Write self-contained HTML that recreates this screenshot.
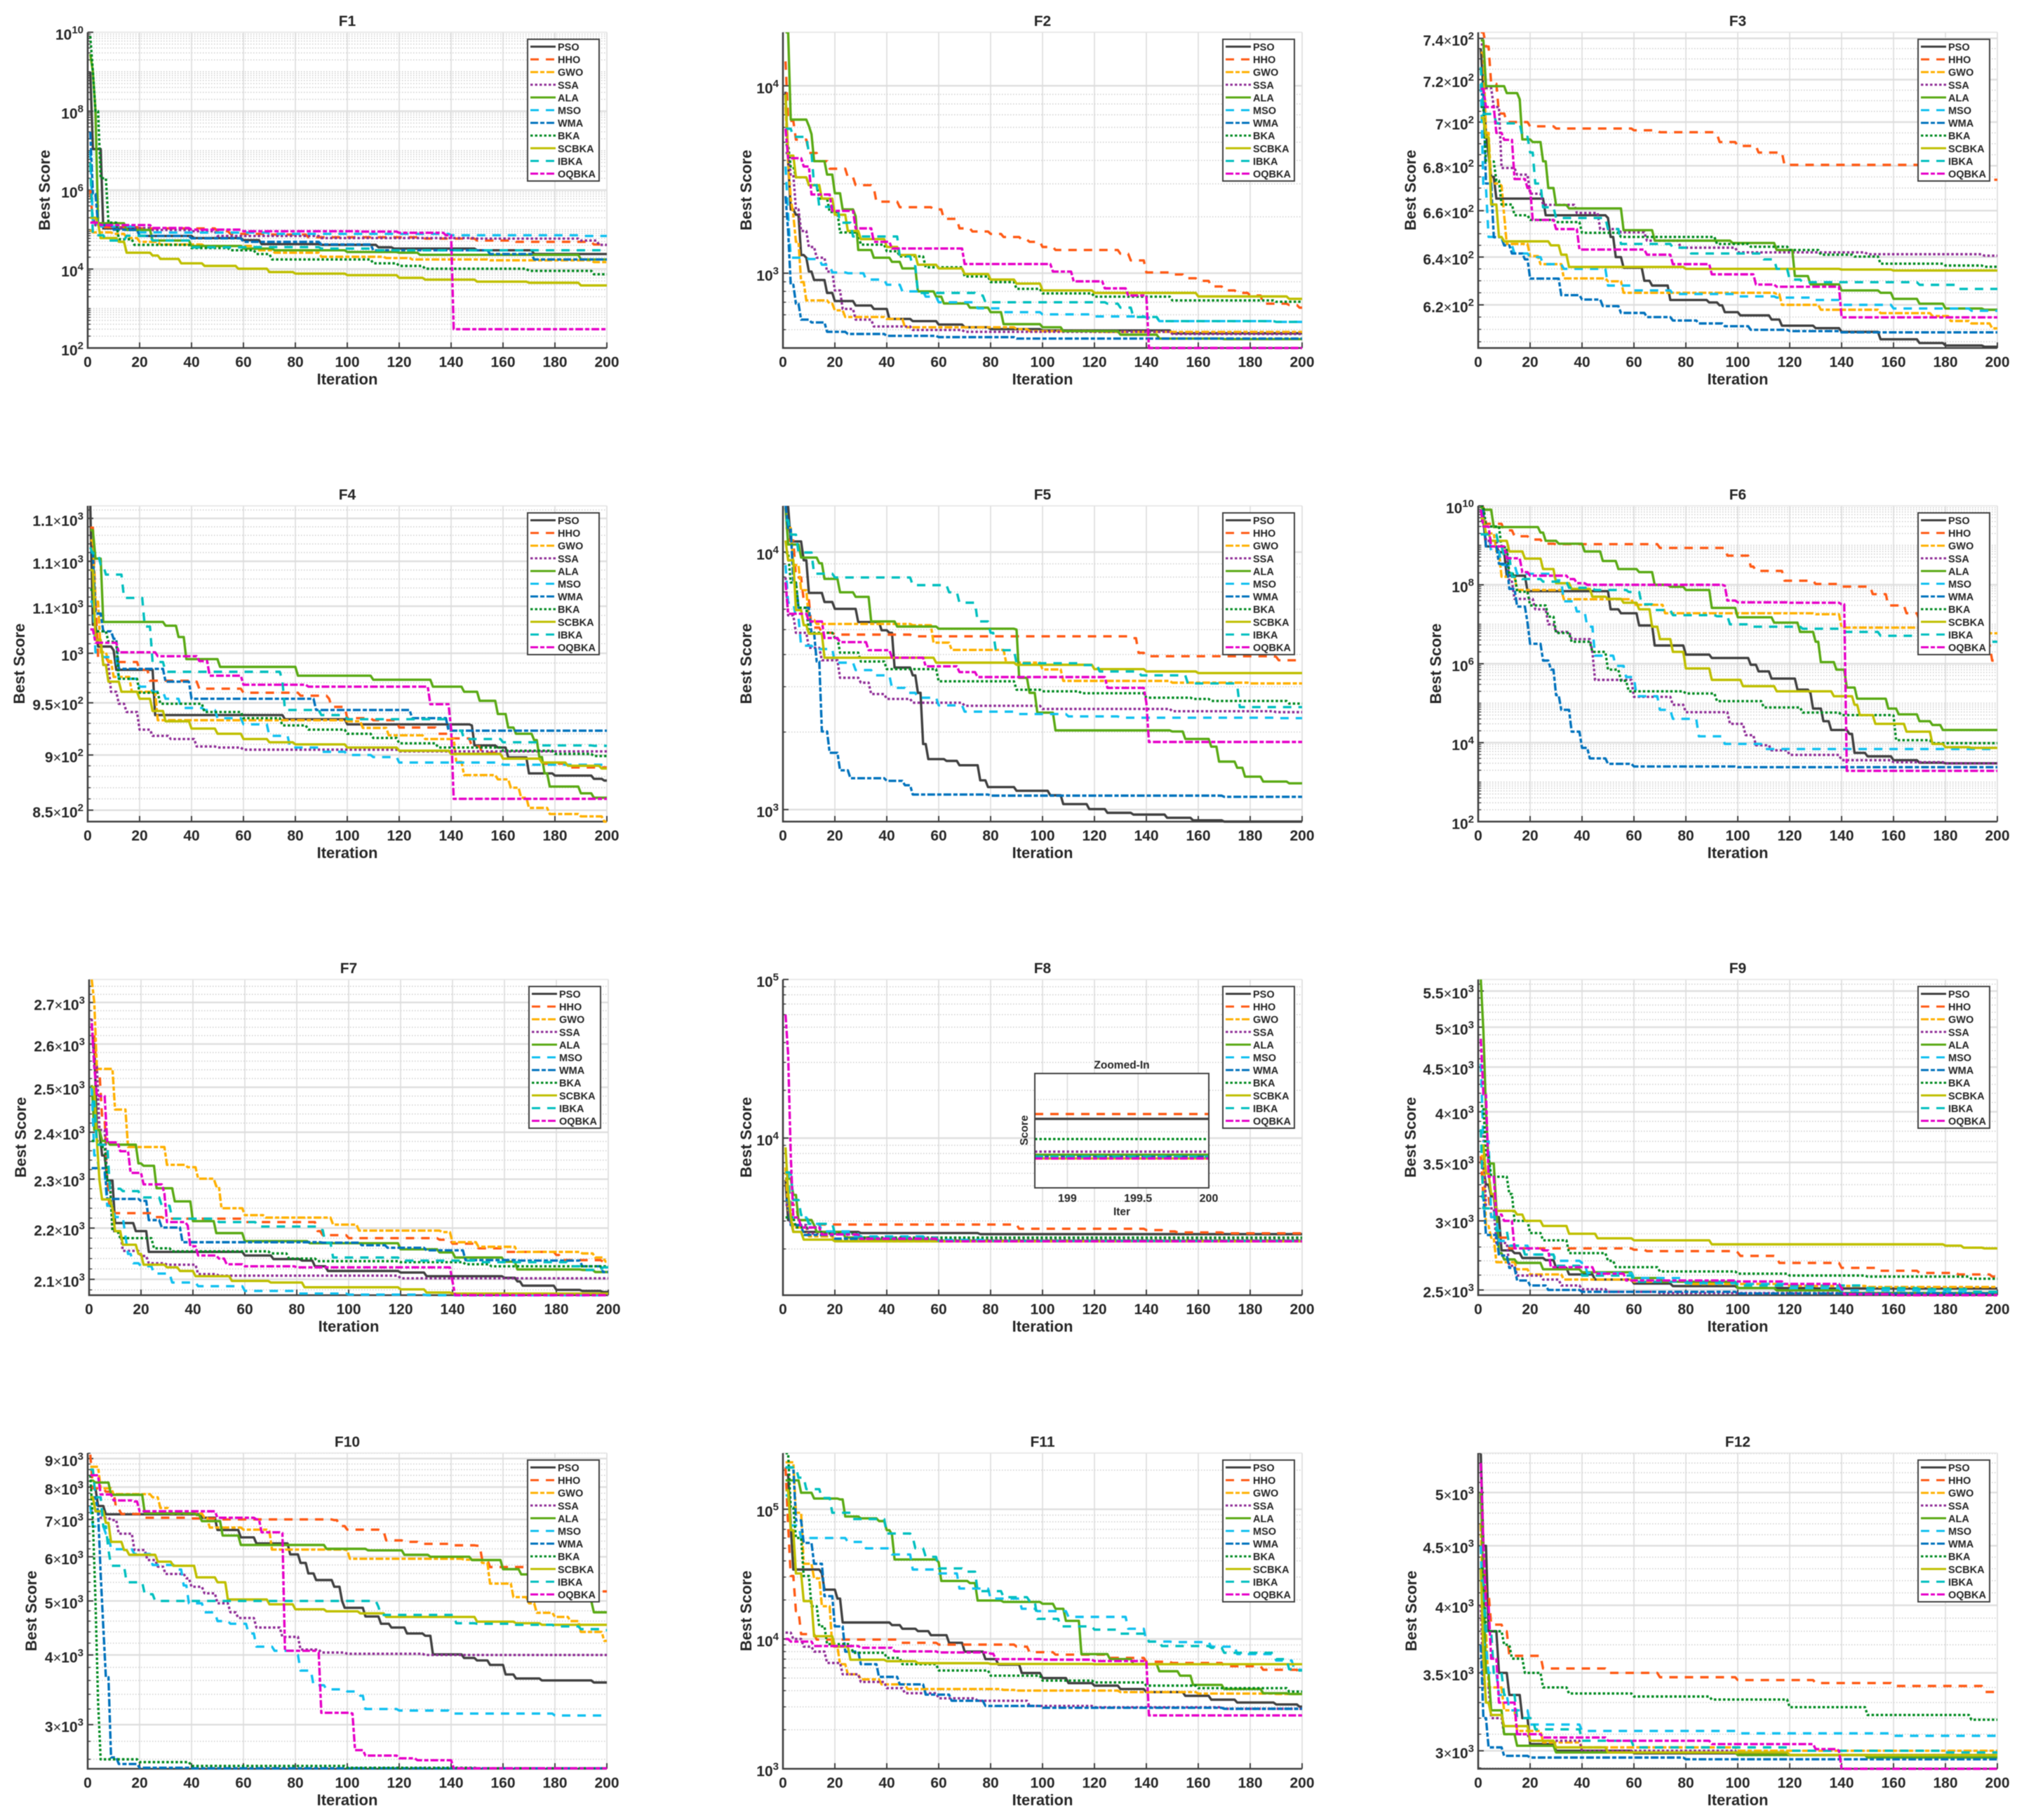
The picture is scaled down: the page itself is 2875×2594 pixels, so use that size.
<!DOCTYPE html>
<html lang="en">
<head>
<meta charset="utf-8">
<title>Convergence curves F1-F12</title>
<style>
html,body{margin:0;padding:0;background:#fff;}
#stage{display:block;width:2875px;height:2594px;font-family:"Liberation Sans",Arial,sans-serif;filter:blur(0.6px);}
text{font-family:"Liberation Sans",Arial,sans-serif;font-weight:bold;fill:#262626;}
</style>
</head>
<body>
<svg id="stage" xmlns="http://www.w3.org/2000/svg" width="2875" height="2594" viewBox="0 0 2875 2594"></svg>
<script>
const xTicks=[0,20,40,60,80,100,120,140,160,180,200];
const algorithms=['PSO','HHO','GWO','SSA','ALA','MSO','WMA','BKA','SCBKA','IBKA','OQBKA'];

/* ---------- F1 ---------- */
const F1_yRange=[1e2,1e10];
const F1_yTicks=[1e2,1e4,1e6,1e8,1e10];
const F1_yLabels=['10^2','10^4','10^6','10^8','10^10'];
const F1_PSO=[[1,1e9],[2,1.1e7],[6,1.07e5],[20,6.9e4],[41,6.1e4],[60,5.4e4],[67,4.3e4],[90,4.1e4],[112,3.55e4],[118,3.3e4],[150,3e4],[172,2.4e4]];
const F1_HHO=[[1,1e6],[2,1.5e5],[5,1.15e5],[20,1.07e5],[50,9.1e4],[55,7.8e4],[70,7.5e4],[85,6.4e4],[130,5.9e4],[150,5.3e4],[165,4.9e4],[195,4.2e4]];
const F1_GWO=[[1,1e5],[2,8.5e4],[10,7.8e4],[15,6.1e4],[20,4.9e4],[28,4.2e4],[45,3.85e4],[65,3e4],[72,2.6e4],[90,2.05e4],[115,1.9e4],[125,1.75e4],[155,1.67e4],[195,1.5e4]];
const F1_SSA=[[1,2e5],[3,1.28e5],[10,1.1e5],[25,9.8e4],[40,9.1e4],[50,6.9e4],[90,6.1e4],[150,5.9e4],[190,5.3e4],[197,4.1e4]];
const F1_ALA=[[1,2.8e9],[2,1e9],[3,1e8],[4,1.45e5],[15,9.8e4],[25,5.3e4],[40,3.85e4],[60,3.3e4],[72,3e4],[100,2.7e4],[120,2.6e4],[128,2.3e4],[190,1.75e4]];
const F1_MSO=[[1,1e7],[2,1.35e5],[5,1.2e5],[20,8.5e4],[30,8.4e4],[70,7.8e4],[140,7.2e4],[190,6.9e4]];
const F1_WMA=[[1,3e7],[2,8e5],[4,1.3e5],[10,1e5],[15,9.8e4],[20,6.9e4],[40,6e4],[60,4.9e4],[90,4.2e4],[110,3e4],[155,2.4e4],[172,1.75e4]];
const F1_BKA=[[1,8e9],[2,1e9],[3,1e8],[5,2e6],[8,1.5e5],[12,5.7e4],[18,4.1e4],[40,3.4e4],[55,3e4],[65,2.4e4],[71,1.75e4],[110,1.4e4],[120,1.2e4],[130,1.02e4],[170,9e3],[195,7.4e3]];
const F1_SCBKA=[[1,2e5],[4,1.45e5],[5,6.1e4],[12,4.9e4],[15,2.6e4],[25,2.2e4],[28,1.8e4],[36,1.4e4],[45,1.2e4],[58,1.02e4],[70,8.4e3],[80,7.7e3],[100,7e3],[120,6e3],[130,5.4e3],[150,4.8e3],[170,4.5e3],[190,3.85e3]];
const F1_IBKA=[[1,5e6],[2,7.2e4],[7,5.3e4],[15,7e4],[25,5.3e4],[40,3.55e4],[60,3.6e4],[90,3.3e4],[110,3e4],[190,3e4]];
const F1_OQBKA=[[1,1.5e5],[5,1.3e5],[25,1.1e5],[40,1e5],[60,9.1e4],[105,8.9e4],[120,8.3e4],[138,7.2e4],[141,3e2]];

/* ---------- F2 ---------- */
const F2_yRange=[399,19300];
const F2_yTicks=[1e3,1e4];
const F2_yLabels=['10^3','10^4'];
const F2_PSO=[[1,9300],[2,3960],[3,2190],[5,2050],[7,1250],[9,1210],[10,1020],[12,920],[17,785],[20,710],[28,673],[35,645],[41,570],[50,555],[60,532],[70,515],[80,503],[100,495],[150,478]];
const F2_HHO=[[1,13500],[2,6500],[5,5160],[10,4380],[14,3960],[18,3610],[25,3250],[28,2950],[35,2850],[36,2410],[45,2250],[58,2190],[62,1950],[68,1735],[73,1670],[80,1620],[85,1560],[92,1510],[95,1470],[100,1380],[105,1330],[130,1270],[134,1170],[140,1010],[150,985],[155,940],[160,910],[165,850],[170,810],[175,785],[180,760],[185,688],[195,677],[199,655]];
const F2_GWO=[[1,7700],[2,3960],[3,2500],[4,2050],[5,1470],[7,897],[9,716],[18,688],[20,634],[24,584],[40,570],[47,515],[90,503],[95,491],[120,486]];
const F2_SSA=[[1,4380],[3,3360],[5,2190],[7,1680],[10,1380],[13,1210],[17,1020],[20,810],[23,645],[28,565],[35,520],[50,498],[70,487],[150,474]];
const F2_ALA=[[1,19300],[3,6600],[10,6100],[11,5520],[12,3960],[17,3360],[20,2670],[23,2190],[28,2010],[29,1330],[35,1210],[42,1150],[46,1060],[52,800],[59,750],[62,690],[72,655],[80,620],[85,535],[100,515],[108,491],[130,470],[145,448],[170,445]];
const F2_MSO=[[1,3710],[2,2050],[3,1210],[10,1190],[15,1110],[19,1010],[25,1000],[32,925],[40,868],[46,800],[55,750],[60,700],[75,650],[85,620],[100,603],[120,588],[140,580],[145,555],[190,550]];
const F2_WMA=[[1,2580],[2,1680],[3,868],[5,688],[7,565],[11,546],[17,487],[25,474],[40,463],[60,456],[90,448]];
const F2_BKA=[[1,4830],[3,3710],[5,3250],[10,2950],[14,2500],[18,2120],[22,1650],[30,1420],[40,1310],[45,1230],[55,1075],[70,960],[80,897],[90,825],[100,780],[120,750],[150,716],[190,704]];
const F2_SCBKA=[[1,9000],[2,4240],[5,3250],[10,2950],[15,2500],[20,2050],[25,1680],[30,1520],[40,1380],[45,1250],[52,1110],[60,1060],[70,990],[80,925],[90,880],[100,810],[120,785],[160,752],[195,730]];
const F2_IBKA=[[1,5900],[4,5340],[10,4380],[12,2950],[14,2260],[22,1860],[27,1570],[45,1230],[50,1090],[52,785],[75,760],[78,700],[125,688],[130,655],[135,584],[145,555],[190,550]];
const F2_OQBKA=[[1,5900],[2,4110],[8,3710],[11,2630],[19,2150],[28,1735],[35,1470],[42,1355],[70,1120],[104,1020],[112,905],[124,830],[133,760],[140,755],[141,399]];

/* ---------- F3 ---------- */
const F3_yRange=[602.5,743];
const F3_yTicks=[620,640,660,680,700,720,740];
const F3_yLabels=['6.2×10^2','6.4×10^2','6.6×10^2','6.8×10^2','7×10^2','7.2×10^2','7.4×10^2'];
const F3_PSO=[[1,735],[2,715],[3,695],[4,685],[5,675],[7,665.3],[26,658],[50,656.8],[51,648.6],[53,640],[56,635.5],[64,630],[67,628],[74,622],[89,621],[93,619.8],[95,617],[101,615.7],[113,614],[117,611.5],[130,610.5],[140,609],[155,606],[170,604.5],[180,603.5],[195,603]];
const F3_HHO=[[1,743],[3,736],[5,718],[8,704],[11,700],[20,698],[30,697],[60,696.2],[70,695.3],[92,694.4],[93,690.8],[100,689],[108,686],[118,680.4],[170,680],[172,673.7]];
const F3_GWO=[[1,733],[3,695],[5,672],[9,671],[10,658],[11,645.6],[20,640.4],[24,637],[33,631],[50,629.8],[56,625],[115,624.5],[117,620],[132,618],[155,616.6],[175,615.4],[182,613.4],[190,612.4],[198,610.4]];
const F3_SSA=[[1,737],[3,716],[6,707],[9,679],[15,676],[20,667.5],[25,662.6],[38,659],[47,652],[55,650.6],[65,647],[78,644],[100,642],[150,641.2],[195,640.6]];
const F3_ALA=[[1,739],[3,716.9],[11,713.6],[16,710.6],[17,692],[21,690.8],[25,682],[27,670],[30,662.5],[35,661],[56,651.5],[68,647],[98,646],[115,643],[122,632],[128,628.5],[140,626],[155,625],[160,622.5],[170,620.5],[180,618.5],[195,618]];
const F3_MSO=[[1,718],[2,670],[4,648.6],[7,648],[10,645],[14,641.5],[20,640],[25,637],[33,635],[50,628],[60,626],[75,624.5],[100,623.5],[115,623],[130,622],[140,620],[160,618.5],[190,617.6]];
const F3_WMA=[[1,713],[3,672],[6,648.5],[10,645],[13,641.5],[18,639],[20,630.9],[32,624],[40,622.2],[48,619.5],[55,616.7],[65,615],[75,613.6],[85,612.4],[95,611.3],[105,609.8],[120,609.3],[140,608.8]];
const F3_BKA=[[1,707],[3,681.9],[7,673.3],[9,662.7],[14,658],[20,656],[30,655],[40,650.4],[55,648.6],[92,645.6],[105,644.4],[120,643],[132,641],[145,640.2],[155,637.2],[180,636.4],[195,635.9]];
const F3_SCBKA=[[1,702],[3,693],[5,662.7],[8,648.6],[10,646.7],[28,645],[32,641],[35,635.8],[80,635],[140,634.7],[160,634.3]];
const F3_IBKA=[[1,726],[2,703.8],[7,699.4],[17,693.2],[20,686],[22,672],[25,661.5],[30,656.8],[50,652],[55,645.6],[75,644],[82,641.5],[110,639],[115,635],[120,630.5],[125,629.4],[170,628.3],[185,626.6]];
const F3_OQBKA=[[1,715.6],[3,707],[7,695],[10,691.8],[14,674],[19,670],[21,656],[30,652],[39,643.2],[65,641],[75,637],[90,632.7],[107,628.4],[115,627.5],[140,614.9]];

/* ---------- F4 ---------- */
const F4_yRange=[840,1165];
const F4_yTicks=[850,900,950,1000,1050,1100,1150];
const F4_yLabels=['8.5×10^2','9×10^2','9.5×10^2','10^3','1.1×10^3','1.1×10^3','1.1×10^3'];
const F4_PSO=[[1,1165],[2,1030],[4,1007],[10,1003],[11,983],[26,938],[76,934],[100,929],[148,928],[149,909],[158,907],[162,897.7],[170,883],[180,881],[195,878],[199,876.5]];
const F4_HHO=[[1,1139],[3,1055],[4,996],[8,991],[20,983],[24,972],[40,971],[43,964],[60,960],[82,957],[93,954],[94,946],[100,935],[110,933],[120,926],[135,920],[140,915.6],[148,908],[152,902],[160,896.6],[175,892],[185,888.5]];
const F4_GWO=[[1,1124],[3,1055],[5,1001],[8,992],[10,975.8],[17,961],[25,960],[27,933],[100,932],[106,925.6],[116,918.5],[130,915],[142,893.5],[145,881.5],[158,877.6],[163,870],[167,861],[170,852],[178,846.6],[190,844.5],[199,840]];
const F4_SSA=[[1,1068],[3,1014],[6,988],[9,961],[12,949],[15,941],[20,924],[25,918],[32,915],[42,908],[50,907],[60,905],[120,903.4]];
const F4_ALA=[[1,1136],[3,1103],[6,1033],[30,1029],[35,1017],[38,994],[51,986],[81,977],[110,973],[133,966],[145,961],[151,952],[158,939],[162,926],[165,920],[172,914],[174,898],[176,883],[178,871],[190,865],[195,861]];
const F4_MSO=[[1,1055],[3,1001],[6,996],[12,974],[20,966],[25,961],[30,954],[36,945],[45,943],[50,935],[60,929],[70,918],[78,907],[90,903],[100,900],[110,898],[120,893],[160,891]];
const F4_WMA=[[1,1110],[3,1042],[6,1023],[10,1015],[12,984],[30,971],[40,954],[88,943],[125,935],[139,923]];
const F4_BKA=[[1,1068],[3,1023],[8,1012],[12,974],[20,960],[28,949],[45,941],[60,935],[75,928],[85,924],[100,920],[110,916],[120,911],[135,907],[160,904],[180,901],[195,899]];
const F4_SCBKA=[[1,1090],[3,1014],[6,988],[8,971],[13,961],[20,954],[25,942],[30,932],[40,925],[50,920],[60,915],[70,912],[80,910],[100,907],[120,904],[140,901],[160,896.6],[175,893],[185,890],[198,887.5]];
const F4_IBKA=[[1,1116],[2,1109],[5,1096],[7,1085],[14,1059],[22,1028],[25,991],[30,981],[75,972],[76,943],[90,938],[100,934],[140,923],[145,915],[160,912],[175,909],[195,908.6]];
const F4_OQBKA=[[1,1025],[3,1011],[12,1001],[27,997],[43,992],[47,977],[60,968],[85,966],[132,948.6],[140,925],[141,860]];

/* ---------- F5 ---------- */
const F5_yRange=[898,15120];
const F5_yTicks=[1e3,1e4];
const F5_yLabels=['10^3','10^4'];
const F5_PSO=[[1,15000],[3,11000],[8,9300],[10,6940],[16,6400],[20,6020],[29,5350],[38,4970],[41,4860],[43,3560],[50,3320],[52,2840],[54,1797],[56,1571],[63,1545],[68,1486],[76,1299],[79,1223],[90,1183],[103,1136],[108,1050],[118,1004],[125,971],[135,956],[148,929],[158,908],[170,898]];
const F5_HHO=[[1,14900],[2,11100],[5,7970],[8,6500],[11,5090],[15,4860],[20,4780],[50,4710],[135,4630],[137,4060],[140,3940],[190,3920],[191,3800]];
const F5_GWO=[[1,12400],[4,8900],[7,7110],[10,5450],[13,5260],[50,5200],[58,4450],[65,4170],[86,3720],[100,3500],[108,3160],[150,3110],[180,3090]];
const F5_SSA=[[1,7970],[2,5680],[5,4860],[10,4250],[15,3800],[22,3250],[30,3110],[34,2810],[40,2690],[50,2600],[70,2530],[100,2460],[150,2410],[190,2390]];
const F5_ALA=[[1,14900],[2,10700],[7,9520],[14,9050],[16,7870],[22,6980],[28,6700],[34,5380],[44,5140],[60,5040],[90,5000],[91,3250],[95,2840],[98,2380],[105,2030],[150,2010],[155,1880],[165,1755],[168,1536],[175,1453],[178,1343],[185,1285],[195,1265]];
const F5_MSO=[[1,8900],[2,6360],[5,5560],[7,4330],[12,4200],[20,3720],[28,3480],[35,3320],[42,2970],[48,2840],[52,2720],[60,2540],[70,2400],[90,2350],[110,2300],[130,2275],[190,2265]];
const F5_WMA=[[1,15200],[2,12400],[4,7620],[6,6080],[11,4860],[13,3760],[15,2010],[18,1662],[22,1421],[26,1323],[40,1293],[47,1243],[50,1144],[80,1133],[170,1121]];
const F5_BKA=[[1,9950],[3,7620],[6,6080],[10,4860],[20,4640],[22,4070],[30,3760],[40,3510],[60,3147],[90,2920],[100,2880],[115,2830],[140,2720],[158,2690],[165,2640],[195,2580]];
const F5_SCBKA=[[1,11100],[2,9300],[5,5950],[8,5200],[10,4820],[16,3890],[59,3720],[90,3650],[120,3510],[140,3440],[160,3390]];
const F5_IBKA=[[1,13300],[3,11700],[6,9960],[12,8240],[20,7970],[50,7440],[64,6980],[68,6360],[75,5380],[80,4860],[82,4160],[90,3700],[115,3640],[122,3440],[138,3320],[156,3090],[175,3040],[176,2500]];
const F5_OQBKA=[[1,7620],[2,5760],[10,5380],[16,4640],[22,4470],[33,4160],[42,3890],[55,3600],[68,3420],[75,3270],[125,2970],[140,2600],[141,1830]];

/* ---------- F6 ---------- */
const F6_yRange=[1e2,1e10];
const F6_yTicks=[1e2,1e4,1e6,1e8,1e10];
const F6_yLabels=['10^2','10^4','10^6','10^8','10^10'];
const F6_PSO=[[1,4.2e9],[3,9.4e8],[8,6.7e8],[11,1.7e8],[19,6.9e7],[51,2.4e7],[55,1.9e7],[62,9.3e6],[68,2.9e6],[80,1.7e6],[90,1.4e6],[105,9.4e5],[108,6.4e5],[113,4.2e5],[123,2.2e5],[128,1.8e5],[129,7.3e4],[133,3.5e4],[136,2.1e4],[143,1.67e4],[145,5.5e3],[150,4.5e3],[160,3.6e3],[170,3.1e3],[180,3e3]];
const F6_HHO=[[1,9e9],[3,3.5e9],[10,2.4e9],[14,1.7e9],[20,1.4e9],[25,1.1e9],[30,1.07e9],[70,8.6e8],[96,5.5e8],[105,2.9e8],[107,2.25e8],[118,1.27e8],[130,1.05e8],[140,9e7],[152,5.8e7],[158,3e7],[165,1.9e7],[170,1.25e7],[180,6.4e6],[190,3e6],[198,1.2e6]];
const F6_GWO=[[1,4.7e9],[3,2e9],[7,7e8],[9,1.6e8],[15,7.4e7],[33,4.3e7],[60,3.1e7],[72,1.9e7],[130,1.8e7],[140,8.2e6],[190,5.9e6]];
const F6_SSA=[[1,6.5e9],[3,1.3e9],[8,7e8],[12,1.2e8],[14,4.4e7],[22,2.4e7],[27,1e7],[30,6.4e6],[36,4.2e6],[44,2e6],[45,3.9e5],[60,1.45e5],[75,9.1e4],[80,5.9e4],[97,3e4],[103,1.55e4],[107,8.6e3],[113,6.4e3],[120,4.9e3],[140,3.6e3],[160,3.2e3],[180,3e3]];
const F6_ALA=[[1,1e10],[2,8e9],[6,2.9e9],[24,2.1e9],[26,1.3e9],[31,1.1e9],[41,7e8],[48,4e8],[54,2.5e8],[62,2.1e8],[68,1e8],[74,8.9e7],[80,7.4e7],[90,2.6e7],[100,1.5e7],[114,1.1e7],[124,6.4e6],[130,3.6e6],[132,1.1e6],[138,7.1e5],[142,2.5e5],[146,1.3e5],[158,7.3e4],[162,5.2e4],[170,3.5e4],[175,2.8e4],[179,2.1e4]];
const F6_MSO=[[1,1.9e9],[5,7e8],[9,3.2e8],[15,1.9e8],[30,1.3e8],[33,3.8e7],[38,2.1e7],[42,8.7e6],[45,1.6e6],[53,8.8e5],[57,4.6e5],[61,1.5e5],[70,6.8e4],[75,4e4],[85,1.45e4],[95,9.3e3],[110,6.9e3]];
const F6_WMA=[[1,7.6e9],[3,9.4e8],[8,3.4e8],[12,7.9e7],[15,2.8e7],[19,1.1e7],[20,3.2e6],[25,1.2e6],[28,7.1e5],[30,1.6e5],[32,6.8e4],[36,1.9e4],[40,7.4e3],[43,4e3],[50,2.9e3],[60,2.5e3],[100,2.4e3]];
const F6_BKA=[[1,1e10],[3,3e9],[9,8.9e8],[12,1.9e8],[15,6.7e7],[20,3e7],[27,1.56e7],[30,6e6],[36,3.6e6],[44,2e6],[50,7.1e5],[55,3.7e5],[58,2e5],[80,1.76e5],[92,1.13e5],[110,7.8e4],[125,5.8e4],[140,5e4],[160,4.9e4],[161,1.16e4],[175,9.7e3]];
const F6_SCBKA=[[1,4.7e9],[3,2e9],[5,1.3e9],[12,7e8],[18,4.6e8],[25,2.5e8],[30,1.1e8],[36,7.9e7],[44,5e7],[50,4.4e7],[56,3.5e7],[62,2.4e7],[67,8.7e6],[70,4.2e6],[75,2e6],[80,7.6e5],[90,3.9e5],[102,2.7e5],[115,2e5],[137,1.5e5],[145,9.1e4],[147,5e4],[153,3e4],[165,1.9e4],[175,9.3e3],[180,7.7e3],[190,7.4e3]];
const F6_IBKA=[[1,1.9e9],[8,9.4e8],[10,5.3e8],[13,1.6e8],[17,1.4e8],[25,1.2e8],[35,8.4e7],[45,7.4e7],[58,6.6e7],[63,3.2e7],[68,2.3e7],[75,1.7e7],[92,1.6e7],[97,1e7],[105,8.7e6],[125,7.7e6],[140,6.4e6],[155,5.1e6],[195,3.6e6]];
const F6_OQBKA=[[1,8e9],[2,3e9],[5,9.4e8],[11,4.7e8],[17,2.1e8],[20,1.7e8],[35,1.4e8],[38,1.1e8],[42,1e8],[95,9.5e7],[96,4e7],[100,3.6e7],[120,3.5e7],[140,3.2e7],[142,1.93e3]];

/* ---------- F7 ---------- */
const F7_yRange=[2070,2757];
const F7_yTicks=[2100,2200,2300,2400,2500,2600,2700];
const F7_yLabels=['2.1×10^3','2.2×10^3','2.3×10^3','2.4×10^3','2.5×10^3','2.6×10^3','2.7×10^3'];
const F7_PSO=[[1,2600],[3,2405],[5,2350],[7,2297],[10,2210],[18,2194],[23,2153],[60,2146],[71,2139],[82,2136],[87,2125],[92,2116],[120,2113],[130,2106],[160,2103],[165,2096],[167,2088],[180,2080],[190,2078],[198,2076]];
const F7_HHO=[[1,2618],[3,2535],[5,2433],[7,2297],[8,2235],[10,2230],[25,2222],[29,2219],[60,2212],[88,2194],[90,2186],[100,2180],[135,2177],[140,2169],[150,2160],[160,2153],[180,2147],[182,2137],[198,2134]];
const F7_GWO=[[1,2757],[2,2700],[3,2542],[10,2450],[15,2368],[30,2330],[38,2325],[42,2301],[49,2285],[51,2240],[60,2226],[68,2221],[94,2207],[104,2195],[136,2192],[140,2172],[150,2163],[165,2153],[190,2150],[195,2142],[199,2134]];
const F7_SSA=[[1,2660],[2,2547],[4,2405],[7,2297],[9,2194],[13,2155],[20,2145],[23,2131],[30,2128],[42,2110],[50,2107],[120,2102]];
const F7_ALA=[[1,2505],[2,2405],[5,2381],[8,2373],[19,2333],[21,2328],[26,2281],[33,2254],[40,2214],[49,2190],[60,2174],[85,2170],[120,2158],[135,2152],[141,2142],[160,2134],[165,2119],[190,2118],[195,2114]];
const F7_MSO=[[1,2500],[2,2350],[4,2313],[7,2245],[10,2222],[14,2184],[15,2149],[17,2131],[20,2125],[25,2111],[32,2094],[42,2087],[60,2078],[80,2073],[100,2071],[130,2070]];
const F7_WMA=[[1,2323],[7,2259],[20,2255],[23,2216],[28,2201],[36,2172],[90,2171],[105,2166],[115,2161],[130,2156],[145,2137],[165,2136],[190,2125],[198,2114]];
const F7_BKA=[[1,2381],[5,2368],[7,2297],[9,2194],[12,2180],[25,2160],[32,2154],[70,2150],[77,2140],[88,2135],[120,2133],[145,2129],[155,2125]];
const F7_SCBKA=[[1,2500],[3,2383],[4,2297],[5,2258],[9,2240],[10,2194],[13,2167],[19,2149],[21,2128],[30,2123],[35,2116],[41,2106],[55,2097],[70,2094],[83,2085],[120,2081],[130,2075],[140,2073]];
const F7_IBKA=[[1,2468],[3,2373],[8,2280],[13,2275],[20,2262],[28,2245],[32,2219],[50,2212],[65,2203],[89,2196],[91,2171],[94,2142],[120,2136],[150,2133],[185,2125],[190,2118],[198,2123]];
const F7_OQBKA=[[1,2650],[2,2547],[3,2480],[7,2378],[12,2359],[16,2313],[21,2289],[29,2271],[30,2212],[38,2205],[39,2164],[42,2146],[50,2140],[53,2129],[60,2125],[80,2123],[140,2096],[141,2070]];

/* ---------- F8 ---------- */
const F8_yRange=[1022,1e5];
const F8_yTicks=[1e4,1e5];
const F8_yLabels=['10^4','10^5'];
const F8_PSO=[[1,5450],[2,3040],[4,2560],[30,2520],[76,2480]];
const F8_HHO=[[1,6070],[3,3790],[6,3040],[12,2850],[91,2680],[140,2630],[147,2580],[152,2540],[170,2510]];
const F8_GWO=[[1,6530],[2,3520],[4,2730],[10,2400],[20,2270],[40,2235]];
const F8_SSA=[[1,3790],[3,2830],[10,2500],[25,2320],[40,2277]];
const F8_ALA=[[1,5550],[4,4380],[6,3040],[12,2830],[13,2560],[24,2360],[35,2290],[60,2258]];
const F8_MSO=[[1,6070],[3,3160],[10,2880],[15,2580],[27,2400],[55,2280],[80,2246]];
const F8_WMA=[[1,4070],[3,2830],[8,2450],[20,2320],[50,2246]];
const F8_BKA=[[1,3160],[5,2730],[15,2500],[30,2355]];
const F8_SCBKA=[[1,8750],[2,4540],[3,3160],[4,2560],[8,2290],[20,2235]];
const F8_IBKA=[[1,6070],[4,4070],[7,3270],[10,2880],[20,2500],[30,2360],[60,2246]];
const F8_OQBKA=[[1,60000],[2,33600],[3,7840],[4,3160],[7,2730],[15,2470],[30,2320],[60,2235]];
const inset_xTicks=[199,199.5,200];
const inset_xRange=[198.77,200];
const inset_yRange=[2053,2761];
const inset_yGrid=[2200,2400,2600];

/* ---------- F9 ---------- */
const F9_yRange=[2466,5670];
const F9_yTicks=[2500,3000,3500,4000,4500,5000,5500];
const F9_yLabels=['2.5×10^3','3×10^3','3.5×10^3','4×10^3','4.5×10^3','5×10^3','5.5×10^3'];
const F9_PSO=[[1,3450],[3,3300],[5,3200],[7,3030],[9,2775],[14,2755],[17,2720],[26,2705],[30,2650],[35,2605],[45,2570],[60,2543],[75,2526],[100,2513],[130,2510]];
const F9_HHO=[[1,3560],[2,3200],[5,3030],[8,2870],[12,2790],[60,2780],[65,2770],[100,2760],[101,2735],[115,2730],[116,2685],[140,2650],[155,2630],[170,2615],[185,2605],[198,2590]];
const F9_GWO=[[1,3560],[3,2960],[5,2870],[7,2690],[15,2640],[20,2605],[33,2570],[60,2555],[80,2540],[120,2527],[150,2520]];
const F9_SSA=[[1,3780],[3,3100],[7,2830],[12,2665],[15,2597],[25,2570],[32,2530],[40,2505],[50,2488],[70,2480]];
const F9_ALA=[[1,5670],[2,4950],[3,4010],[4,3490],[7,3100],[8,2755],[10,2710],[15,2685],[25,2640],[40,2620],[60,2580],[71,2555],[100,2513],[115,2497],[140,2480]];
const F9_MSO=[[1,4540],[2,3700],[5,3030],[8,2845],[12,2810],[20,2745],[30,2700],[40,2685],[42,2615],[60,2580],[80,2545],[100,2540],[120,2513],[140,2497],[170,2488]];
const F9_WMA=[[1,3200],[3,2890],[8,2738],[12,2650],[15,2563],[20,2530],[27,2500],[40,2488],[100,2477]];
const F9_BKA=[[1,4060],[3,3560],[5,3370],[12,3220],[14,3000],[20,2905],[25,2850],[35,2755],[50,2700],[53,2655],[70,2625],[100,2610],[120,2597],[150,2590],[190,2575]];
const F9_SCBKA=[[1,3660],[3,3400],[5,3220],[7,3080],[15,3050],[18,3000],[25,2960],[35,2900],[46,2865],[60,2850],[90,2820],[180,2810],[187,2795],[195,2790]];
const F9_IBKA=[[1,3820],[2,3100],[7,2923],[12,2810],[18,2745],[30,2665],[40,2597],[60,2555],[100,2530],[150,2513],[170,2505],[190,2488]];
const F9_OQBKA=[[1,4850],[2,4190],[4,3370],[7,3050],[10,3000],[14,2790],[25,2775],[28,2655],[45,2610],[57,2563],[100,2557],[118,2540],[140,2513],[141,2472],[160,2466]];

/* ---------- F10 ---------- */
const F10_yRange=[2500,9208];
const F10_yTicks=[3000,4000,5000,6000,7000,8000,9000];
const F10_yLabels=['3×10^3','4×10^3','5×10^3','6×10^3','7×10^3','8×10^3','9×10^3'];
const F10_PSO=[[1,7960],[4,7400],[7,7150],[44,7050],[50,6700],[59,6500],[65,6340],[78,6060],[82,5850],[85,5600],[88,5450],[95,5300],[98,5000],[99,4860],[107,4690],[113,4550],[117,4480],[123,4370],[130,4330],[133,4010],[145,3950],[150,3910],[155,3840],[161,3690],[165,3630],[175,3600],[195,3570]];
const F10_HHO=[[1,9150],[2,7960],[7,7850],[11,7300],[13,7160],[22,7050],[40,7030],[50,7000],[95,6980],[97,6810],[100,6710],[113,6670],[115,6420],[122,6380],[128,6330],[140,6290],[150,6280],[152,5920],[155,5750],[170,5690],[190,5200]];
const F10_GWO=[[1,8700],[5,7960],[10,7770],[25,7670],[28,7340],[32,7170],[45,7050],[47,6770],[60,6710],[70,6670],[71,6180],[100,6160],[101,5950],[145,5930],[152,5850],[155,5370],[164,5080],[170,4950],[173,4760],[180,4680],[186,4600],[190,4400],[199,4240]];
const F10_SSA=[[1,7240],[5,7050],[9,6980],[12,6600],[18,6170],[23,5920],[27,5760],[30,5590],[38,5490],[40,5300],[45,5160],[50,4950],[55,4770],[58,4660],[65,4480],[75,4310],[82,4090],[90,4040],[100,4020],[130,4000]];
const F10_ALA=[[1,8220],[3,8150],[9,7750],[22,7180],[42,7130],[44,6950],[52,6550],[59,6300],[92,6200],[108,6160],[122,6050],[132,6000],[148,5920],[160,5700],[167,5580],[180,5150],[192,5000],[195,4770]];
const F10_MSO=[[1,7400],[2,6800],[7,6600],[9,6190],[18,6070],[25,5800],[35,5690],[37,5330],[39,4950],[45,4770],[50,4600],[55,4550],[62,4370],[65,4140],[72,4070],[80,4000],[82,3750],[87,3530],[92,3470],[100,3440],[105,3380],[107,3200],[120,3180],[140,3140],[180,3115]];
const F10_WMA=[[1,7670],[4,7240],[5,5580],[6,4500],[7,3650],[9,2620],[12,2550],[20,2510],[40,2505]];
const F10_BKA=[[1,8400],[2,6960],[3,5000],[4,3300],[5,2600],[20,2570],[40,2530],[100,2510],[150,2505]];
const F10_SCBKA=[[1,7670],[3,7240],[7,6900],[9,6380],[14,6170],[16,6050],[27,5880],[33,5780],[42,5510],[50,5400],[54,5030],[70,4930],[80,4830],[92,4790],[105,4750],[115,4680],[150,4590],[165,4560],[175,4530]];
const F10_IBKA=[[1,8600],[3,7670],[6,6800],[8,6170],[9,5780],[15,5400],[22,5140],[26,5000],[112,4880],[113,4720],[142,4560],[150,4550],[165,4530],[180,4500],[190,4450],[198,4430]];
const F10_OQBKA=[[1,8400],[5,7760],[10,7570],[18,7540],[20,7240],[50,7050],[65,7000],[67,6640],[75,6620],[76,4070],[89,4040],[90,3150],[102,3140],[103,2700],[107,2640],[120,2610],[127,2590],[141,2505]];

/* ---------- F11 ---------- */
const F11_yRange=[1e3,2.71e5];
const F11_yTicks=[1e3,1e4,1e5];
const F11_yLabels=['10^3','10^4','10^5'];
const F11_PSO=[[1,1.84e5],[3,7.5e4],[4,3.43e4],[15,3.2e4],[16,2.4e4],[21,2.05e4],[23,1.34e4],[42,1.28e4],[46,1.2e4],[52,1.15e4],[57,1.07e4],[64,9350],[70,8000],[78,7000],[83,6350],[92,5470],[100,5000],[110,4570],[120,4370],[130,4120],[140,3900],[155,3650],[165,3410],[175,3240],[190,3130],[199,3010]];
const F11_HHO=[[1,2.1e5],[2,7.5e4],[3,3.06e4],[5,1.64e4],[7,1.09e4],[13,9900],[45,9350],[60,9060],[90,8740],[95,7920],[105,7580],[125,7150],[140,6680],[150,6540],[170,6170],[185,5790],[199,5420]];
const F11_GWO=[[1,2.3e5],[5,9.4e4],[8,3.8e4],[12,2.93e4],[15,1.79e4],[19,8740],[22,6400],[25,5350],[30,4890],[38,4470],[48,4120],[85,4050],[90,4000],[130,3900],[160,3800],[190,3770]];
const F11_SSA=[[1,1.12e4],[4,1e4],[8,8740],[12,8000],[17,6540],[23,5350],[30,4670],[40,4180],[47,3820],[60,3490],[75,3340],[95,3050],[120,2980],[170,2900]];
const F11_ALA=[[1,1.67e5],[7,1.34e5],[12,1.21e5],[22,1.19e5],[24,8.8e4],[30,8.5e4],[37,8.1e4],[40,6.9e4],[42,6.4e4],[43,4.1e4],[60,3.9e4],[61,2.8e4],[72,2.7e4],[75,1.98e4],[85,1.93e4],[100,1.87e4],[105,1.71e4],[109,1.38e4],[115,7650],[126,7000],[135,6400],[145,5640],[153,5220],[158,4430],[170,4120],[185,3820],[195,3770]];
const F11_MSO=[[1,1.28e5],[3,7.5e4],[7,6e4],[25,5.6e4],[32,5e4],[42,4.48e4],[50,3.43e4],[60,3.2e4],[68,2.45e4],[80,2.05e4],[92,1.71e4],[98,1.64e4],[110,1.48e4],[133,1.2e4],[140,9560],[150,9470],[165,8740],[175,7650],[190,6830],[197,5790]];
const F11_WMA=[[1,2.1e5],[5,8.2e4],[8,5.5e4],[12,3.8e4],[16,2.14e4],[20,1.25e4],[24,8000],[30,6400],[37,5110],[45,4470],[55,3730],[65,3340],[78,3050],[100,2950],[170,2900]];
const F11_BKA=[[1,2.7e5],[3,1.03e5],[5,6e4],[8,3.06e4],[11,1.79e4],[14,1.25e4],[17,9140],[27,7830],[40,7150],[46,6400],[60,5720],[80,5220],[100,4780],[120,4630],[140,4370],[160,4180],[195,3940]];
const F11_SCBKA=[[1,1.4e5],[3,6.9e4],[5,3.2e4],[8,1.96e4],[12,1.05e4],[20,8740],[26,6920],[40,6740],[52,6510],[80,6420],[120,6400]];
const F11_IBKA=[[1,2.1e5],[6,1.75e5],[9,1.43e5],[15,1.22e5],[19,9.4e4],[27,8.4e4],[40,6.5e4],[50,6.1e4],[51,5e4],[55,4.3e4],[60,3.5e4],[70,3.3e4],[75,2.34e4],[85,2.1e4],[95,1.96e4],[98,1.43e4],[107,1.25e4],[120,1.18e4],[130,1.1e4],[140,1.05e4],[141,9560],[146,8820],[165,8550],[170,7830],[190,7000],[195,5850],[198,5720]];
const F11_OQBKA=[[1,1e4],[3,9560],[12,8820],[30,8550],[43,8030],[60,7880],[80,7700],[82,7000],[100,6930],[120,6770],[140,6740],[141,2580]];

/* ---------- F12 ---------- */
const F12_yRange=[2895,5406];
const F12_yTicks=[3000,3500,4000,4500,5000];
const F12_yLabels=['3×10^3','3.5×10^3','4×10^3','4.5×10^3','5×10^3'];
const F12_PSO=[[1,5400],[2,4500],[4,3800],[8,3500],[12,3350],[17,3200],[20,3040],[30,3000],[60,2985],[120,2975]];
const F12_HHO=[[1,5000],[2,4400],[3,4100],[5,3850],[10,3800],[12,3620],[25,3530],[50,3500],[70,3470],[100,3450],[130,3430],[160,3410],[195,3370]];
const F12_GWO=[[1,4700],[2,3800],[4,3400],[10,3250],[15,3120],[25,3050],[40,3020],[100,3000]];
const F12_SSA=[[1,4000],[2,3400],[5,3200],[10,3100],[20,3060],[40,3000],[100,2975]];
const F12_ALA=[[1,5000],[2,4200],[3,3500],[5,3250],[10,3100],[15,3030],[30,2990],[100,2975],[150,2960]];
const F12_MSO=[[1,4500],[2,3700],[4,3500],[8,3350],[12,3250],[20,3160],[40,3120],[100,3105],[160,3090]];
const F12_WMA=[[1,3700],[2,3200],[4,3020],[10,2970],[20,2960],[80,2950]];
const F12_BKA=[[1,4300],[3,3800],[10,3700],[13,3600],[18,3500],[25,3400],[35,3360],[60,3340],[90,3320],[120,3270],[150,3220],[190,3190]];
const F12_SCBKA=[[1,4300],[2,3600],[3,3300],[5,3220],[10,3150],[20,3060],[30,3020],[50,2990],[120,2975]];
const F12_IBKA=[[1,4200],[3,3800],[6,3500],[10,3350],[15,3200],[22,3130],[40,3060],[60,3020],[120,3000],[180,2990]];
const F12_OQBKA=[[1,5300],[2,4500],[3,4000],[5,3600],[8,3300],[15,3100],[25,3080],[50,3060],[90,3040],[130,3010],[139,3000],[140,2895]];

/* ---------- styling ---------- */
const seriesColors=['#404040','#ff5a14','#ffb000','#8e2c96','#5aaa14','#10c0f0','#0072bd','#008a20','#bfbf00','#00bfbf','#e600c8'];
const seriesDashes=['none','12 10','11 3 6 3','3.5 3','none','12 10','11 3 6 3','3.5 3','none','12 10','11 3 6 3'];

const panels=[
 {name:'F1',left:125,top:46,labelX:63,yRange:F1_yRange,yTicks:F1_yTicks,yLabels:F1_yLabels,minor:0,series:[F1_PSO,F1_HHO,F1_GWO,F1_SSA,F1_ALA,F1_MSO,F1_WMA,F1_BKA,F1_SCBKA,F1_IBKA,F1_OQBKA]},
 {name:'F2',left:1116,top:46,labelX:1063,yRange:F2_yRange,yTicks:F2_yTicks,yLabels:F2_yLabels,minor:0,series:[F2_PSO,F2_HHO,F2_GWO,F2_SSA,F2_ALA,F2_MSO,F2_WMA,F2_BKA,F2_SCBKA,F2_IBKA,F2_OQBKA]},
 {name:'F3',left:2107,top:46,labelX:2010,yRange:F3_yRange,yTicks:F3_yTicks,yLabels:F3_yLabels,minor:5,series:[F3_PSO,F3_HHO,F3_GWO,F3_SSA,F3_ALA,F3_MSO,F3_WMA,F3_BKA,F3_SCBKA,F3_IBKA,F3_OQBKA]},
 {name:'F4',left:125,top:721,labelX:27,yRange:F4_yRange,yTicks:F4_yTicks,yLabels:F4_yLabels,minor:10,series:[F4_PSO,F4_HHO,F4_GWO,F4_SSA,F4_ALA,F4_MSO,F4_WMA,F4_BKA,F4_SCBKA,F4_IBKA,F4_OQBKA]},
 {name:'F5',left:1116,top:721,labelX:1063,yRange:F5_yRange,yTicks:F5_yTicks,yLabels:F5_yLabels,minor:0,series:[F5_PSO,F5_HHO,F5_GWO,F5_SSA,F5_ALA,F5_MSO,F5_WMA,F5_BKA,F5_SCBKA,F5_IBKA,F5_OQBKA]},
 {name:'F6',left:2107,top:721,labelX:2046,yRange:F6_yRange,yTicks:F6_yTicks,yLabels:F6_yLabels,minor:0,series:[F6_PSO,F6_HHO,F6_GWO,F6_SSA,F6_ALA,F6_MSO,F6_WMA,F6_BKA,F6_SCBKA,F6_IBKA,F6_OQBKA]},
 {name:'F7',left:127,top:1396,labelX:29,yRange:F7_yRange,yTicks:F7_yTicks,yLabels:F7_yLabels,minor:20,series:[F7_PSO,F7_HHO,F7_GWO,F7_SSA,F7_ALA,F7_MSO,F7_WMA,F7_BKA,F7_SCBKA,F7_IBKA,F7_OQBKA]},
 {name:'F8',left:1116,top:1396,labelX:1063,yRange:F8_yRange,yTicks:F8_yTicks,yLabels:F8_yLabels,minor:0,series:[F8_PSO,F8_HHO,F8_GWO,F8_SSA,F8_ALA,F8_MSO,F8_WMA,F8_BKA,F8_SCBKA,F8_IBKA,F8_OQBKA]},
 {name:'F9',left:2107,top:1396,labelX:2010,yRange:F9_yRange,yTicks:F9_yTicks,yLabels:F9_yLabels,minor:100,series:[F9_PSO,F9_HHO,F9_GWO,F9_SSA,F9_ALA,F9_MSO,F9_WMA,F9_BKA,F9_SCBKA,F9_IBKA,F9_OQBKA]},
 {name:'F10',left:125,top:2071,labelX:44,yRange:F10_yRange,yTicks:F10_yTicks,yLabels:F10_yLabels,minor:200,series:[F10_PSO,F10_HHO,F10_GWO,F10_SSA,F10_ALA,F10_MSO,F10_WMA,F10_BKA,F10_SCBKA,F10_IBKA,F10_OQBKA]},
 {name:'F11',left:1116,top:2071,labelX:1063,yRange:F11_yRange,yTicks:F11_yTicks,yLabels:F11_yLabels,minor:0,series:[F11_PSO,F11_HHO,F11_GWO,F11_SSA,F11_ALA,F11_MSO,F11_WMA,F11_BKA,F11_SCBKA,F11_IBKA,F11_OQBKA]},
 {name:'F12',left:2107,top:2071,labelX:2011,yRange:F12_yRange,yTicks:F12_yTicks,yLabels:F12_yLabels,minor:100,series:[F12_PSO,F12_HHO,F12_GWO,F12_SSA,F12_ALA,F12_MSO,F12_WMA,F12_BKA,F12_SCBKA,F12_IBKA,F12_OQBKA]}
];

const NS='http://www.w3.org/2000/svg';
const PW=740,PH=450;
const stage=document.getElementById('stage');

function mk(parent,tag,attrs,txt){
  const e=document.createElementNS(NS,tag);
  for(const k in attrs)e.setAttribute(k,attrs[k]);
  if(txt!==undefined)e.textContent=txt;
  parent.appendChild(e);
  return e;
}
function xAxisScale(p){return v=>p.left+v/200*PW;}
function yAxisScale(p){
  const a=Math.log10(p.yRange[0]),b=Math.log10(p.yRange[1]);
  return v=>p.top+PH-(Math.log10(v)-a)/(b-a)*PH;
}
function stepPath(pts,X,Y){
  let d='M'+X(pts[0][0]).toFixed(1)+' '+Y(pts[0][1]).toFixed(1);
  for(let i=1;i<pts.length;i++){
    const hold=pts[i][0]-1;
    if(hold>pts[i-1][0])d+='L'+X(hold).toFixed(1)+' '+Y(pts[i-1][1]).toFixed(1);
    d+='L'+X(pts[i][0]).toFixed(1)+' '+Y(pts[i][1]).toFixed(1);
  }
  d+='L'+X(200).toFixed(1)+' '+Y(pts[pts.length-1][1]).toFixed(1);
  return d;
}
function minorValues(p){
  const out=[];
  if(p.minor){
    const s=p.minor;
    for(let v=Math.ceil(p.yRange[0]/s)*s;v<=p.yRange[1];v+=s){
      if(!p.yTicks.includes(v))out.push(v);
    }
  }else{
    const lo=Math.floor(Math.log10(p.yRange[0])),hi=Math.ceil(Math.log10(p.yRange[1]));
    for(let e=lo;e<hi;e++){
      for(let k=1;k<10;k++){
        const v=k*Math.pow(10,e);
        if(v>=p.yRange[0]&&v<=p.yRange[1]&&!p.yTicks.some(t=>Math.abs(t-v)<v*1e-6))out.push(v);
      }
    }
  }
  return out;
}
function drawYLabel(g,x,y,label){
  const t=mk(g,'text',{x:x,y:y,'text-anchor':'end','font-size':21});
  
  
  const parts=label.split('^');
  const m=parts[0].split('×');
  if(m.length>1){
    mk(t,'tspan',{},m[0]);
    mk(t,'tspan',{'font-weight':'normal','font-size':20},'×');
    mk(t,'tspan',{},m[1]);
  }else{
    mk(t,'tspan',{},m[0]);
  }
  mk(t,'tspan',{dy:-9,'font-size':15},parts[1]);
}

panels.forEach(function(p){
  const X=xAxisScale(p),Y=yAxisScale(p);
  const g=mk(stage,'g',{});
  
  
  const R=p.left+PW,B=p.top+PH;

  /* grid */
  const grid=mk(g,'g',{});
  
  
  const minors=minorValues(p);
  minors.forEach(function(v){
    mk(grid,'line',{x1:p.left,x2:R,y1:Y(v),y2:Y(v),stroke:'#cfcfcf','stroke-width':1.5,'stroke-dasharray':'1.5 2.5'});
  });
  p.yTicks.forEach(function(v){
    if(v>p.yRange[0]&&v<p.yRange[1])mk(grid,'line',{x1:p.left,x2:R,y1:Y(v),y2:Y(v),stroke:'#e0e0e0','stroke-width':2.5});
  });
  xTicks.forEach(function(v){
    if(v>0)mk(grid,'line',{x1:X(v),x2:X(v),y1:p.top,y2:B,stroke:'#dcdcdc','stroke-width':1.6});
  });
  mk(grid,'line',{x1:p.left,x2:R,y1:p.top,y2:p.top,stroke:'#e4e4e4','stroke-width':1.5});

  /* axes, drawn beneath the series */
  const ax=mk(g,'path',{d:'M'+p.left+' '+p.top+'V'+B+'H'+R,fill:'none',stroke:'#404040','stroke-width':2.6});
  
  
  xTicks.forEach(function(v){
    mk(g,'line',{x1:X(v),x2:X(v),y1:B,y2:B-8,stroke:'#404040','stroke-width':2});
    const t=mk(g,'text',{x:X(v),y:B+27,'text-anchor':'middle','font-size':21},String(v));
    
    
  });
  minors.forEach(function(v){
    mk(g,'line',{x1:p.left,x2:p.left+4,y1:Y(v),y2:Y(v),stroke:'#404040','stroke-width':1.5});
  });
  p.yTicks.forEach(function(v,i){
    mk(g,'line',{x1:p.left,x2:p.left+8,y1:Y(v),y2:Y(v),stroke:'#404040','stroke-width':2});
    drawYLabel(g,p.left-6,Y(v)+10.5,p.yLabels[i]);
  });

  /* series */
  const clipId='clip-'+p.name;
  const cp=mk(g,'clipPath',{id:clipId});
  mk(cp,'rect',{x:p.left,y:p.top,width:PW+1,height:PH+2.5});
  const lines=mk(g,'g',{'clip-path':'url(#'+clipId+')'});
  
  
  p.series.forEach(function(pts,i){
    const path=mk(lines,'path',{d:stepPath(pts,X,Y),fill:'none',stroke:seriesColors[i],'stroke-width':3.4,'stroke-dasharray':seriesDashes[i],'stroke-linejoin':'round'});
    
    
  });

  /* titles */
  const title=mk(g,'text',{x:p.left+PW/2,y:p.top-9,'text-anchor':'middle','font-size':21},p.name);
  
  
  const xl=mk(g,'text',{x:p.left+PW/2,y:B+52,'text-anchor':'middle','font-size':22},'Iteration');
  
  
  const cy=p.top+PH/2;
  const yl=mk(g,'text',{x:p.labelX+8,y:cy,'text-anchor':'middle','font-size':22,transform:'rotate(-90 '+(p.labelX+8)+' '+cy+')'},'Best Score');
  
  

  /* legend */
  const lg=mk(g,'g',{});
  
  
  const lx=p.left+627,ly=p.top+10;
  mk(lg,'rect',{x:lx,y:ly,width:102,height:202,fill:'#fff',stroke:'#404040','stroke-width':2});
  algorithms.forEach(function(a,i){
    const ry=ly+10.5+i*18.1;
    const sw=mk(lg,'line',{x1:lx+4,x2:lx+40,y1:ry,y2:ry,stroke:seriesColors[i],'stroke-width':3,'stroke-dasharray':seriesDashes[i]});
    
    
    const tx=mk(lg,'text',{x:lx+43,y:ry+5.5,'font-size':14.5},a);
    
    
  });

  if(p.name==='F8')drawInset(g,p);
});

function drawInset(parent,p){
  const L=1475,T=1530,W=248,H=163;
  const ig=mk(parent,'g',{});
  
  
  const ix=v=>L+(v-inset_xRange[0])/(inset_xRange[1]-inset_xRange[0])*W;
  const iy=v=>T+H-(v-inset_yRange[0])/(inset_yRange[1]-inset_yRange[0])*H;
  mk(ig,'rect',{x:L,y:T,width:W,height:H,fill:'#fff'});
  inset_yGrid.forEach(function(v){
    mk(ig,'line',{x1:L,x2:L+W,y1:iy(v),y2:iy(v),stroke:'#cfcfcf','stroke-width':1.5,'stroke-dasharray':'1.5 2.5'});
  });
  inset_xTicks.forEach(function(v){
    mk(ig,'line',{x1:ix(v),x2:ix(v),y1:T,y2:T+H,stroke:'#dcdcdc','stroke-width':1.6});
    const t=mk(ig,'text',{x:ix(v),y:T+H+20,'text-anchor':'middle','font-size':16},String(v));
    
    
  });
  p.series.forEach(function(pts,i){
    const last=pts[pts.length-1][1];
    const l=mk(ig,'line',{x1:L,x2:L+W,y1:iy(last),y2:iy(last),stroke:seriesColors[i],'stroke-width':3.4,'stroke-dasharray':seriesDashes[i]});
    
    
  });
  const fr=mk(ig,'rect',{x:L,y:T,width:W,height:H,fill:'none',stroke:'#404040','stroke-width':2});
  
  
  const tt=mk(ig,'text',{x:L+124,y:T-7,'text-anchor':'middle','font-size':15.5},'Zoomed-In');
  
  
  const xt=mk(ig,'text',{x:L+124,y:T+H+39,'text-anchor':'middle','font-size':15.5},'Iter');
  
  
  const yx=1465,yy=1611;
  const yt=mk(ig,'text',{x:yx,y:yy,'text-anchor':'middle','font-size':15.5,transform:'rotate(-90 '+yx+' '+yy+')'},'Score');
  
  
}
</script>
</body>
</html>
